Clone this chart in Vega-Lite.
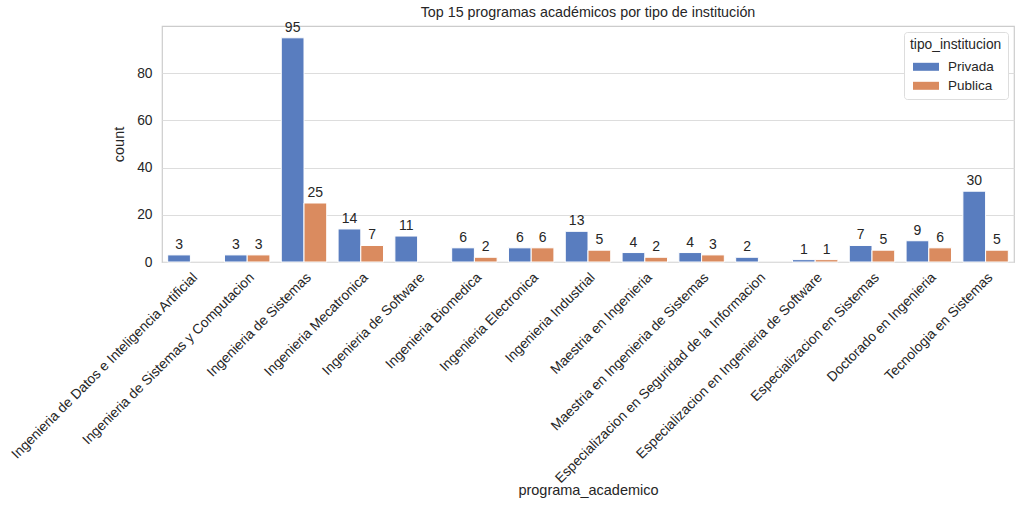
{
  "$schema": "https://vega.github.io/schema/vega-lite/v6.json",
  "autosize": "none",
  "width": 852,
  "height": 236,
  "padding": {"left": 162, "top": 26, "right": 10, "bottom": 244},
  "background": "white",
  "config": {
    "font": "Liberation Sans",
    "view": {"stroke": "#cccccc", "strokeWidth": 1.2},
    "axis": {"labelColor": "#262626", "titleColor": "#262626", "labelFontSize": 13.8, "titleFontSize": 14.5, "titleFontWeight": "normal", "tickSize": 0, "domain": false}
  },
  "title": {"text": "Top 15 programas académicos por tipo de institución", "fontSize": 14.3, "fontWeight": "normal", "color": "#262626", "offset": 1},
  "data": {
    "values": [
      {"programa_academico": "Ingenieria de Datos e Inteligencia Artificial", "tipo_institucion": "Privada", "count": 3},
      {"programa_academico": "Ingenieria de Sistemas y Computacion", "tipo_institucion": "Privada", "count": 3},
      {"programa_academico": "Ingenieria de Sistemas y Computacion", "tipo_institucion": "Publica", "count": 3},
      {"programa_academico": "Ingenieria de Sistemas", "tipo_institucion": "Privada", "count": 95},
      {"programa_academico": "Ingenieria de Sistemas", "tipo_institucion": "Publica", "count": 25},
      {"programa_academico": "Ingenieria Mecatronica", "tipo_institucion": "Privada", "count": 14},
      {"programa_academico": "Ingenieria Mecatronica", "tipo_institucion": "Publica", "count": 7},
      {"programa_academico": "Ingenieria de Software", "tipo_institucion": "Privada", "count": 11},
      {"programa_academico": "Ingenieria Biomedica", "tipo_institucion": "Privada", "count": 6},
      {"programa_academico": "Ingenieria Biomedica", "tipo_institucion": "Publica", "count": 2},
      {"programa_academico": "Ingenieria Electronica", "tipo_institucion": "Privada", "count": 6},
      {"programa_academico": "Ingenieria Electronica", "tipo_institucion": "Publica", "count": 6},
      {"programa_academico": "Ingenieria Industrial", "tipo_institucion": "Privada", "count": 13},
      {"programa_academico": "Ingenieria Industrial", "tipo_institucion": "Publica", "count": 5},
      {"programa_academico": "Maestria en Ingenieria", "tipo_institucion": "Privada", "count": 4},
      {"programa_academico": "Maestria en Ingenieria", "tipo_institucion": "Publica", "count": 2},
      {"programa_academico": "Maestria en Ingenieria de Sistemas", "tipo_institucion": "Privada", "count": 4},
      {"programa_academico": "Maestria en Ingenieria de Sistemas", "tipo_institucion": "Publica", "count": 3},
      {"programa_academico": "Especializacion en Seguridad de la Informacion", "tipo_institucion": "Privada", "count": 2},
      {"programa_academico": "Especializacion en Ingenieria de Software", "tipo_institucion": "Privada", "count": 1},
      {"programa_academico": "Especializacion en Ingenieria de Software", "tipo_institucion": "Publica", "count": 1},
      {"programa_academico": "Especializacion en Sistemas", "tipo_institucion": "Privada", "count": 7},
      {"programa_academico": "Especializacion en Sistemas", "tipo_institucion": "Publica", "count": 5},
      {"programa_academico": "Doctorado en Ingenieria", "tipo_institucion": "Privada", "count": 9},
      {"programa_academico": "Doctorado en Ingenieria", "tipo_institucion": "Publica", "count": 6},
      {"programa_academico": "Tecnologia en Sistemas", "tipo_institucion": "Privada", "count": 30},
      {"programa_academico": "Tecnologia en Sistemas", "tipo_institucion": "Publica", "count": 5}
    ]
  },
  "encoding": {
    "x": {
      "field": "programa_academico", "type": "nominal", "sort": null,
      "scale": {"paddingInner": 0.2, "paddingOuter": 0.1},
      "axis": {"labelAngle": -45, "labelAlign": "right", "labelBaseline": "top", "labelPadding": 8, "grid": false, "labelLimit": 400, "titlePadding": 21}
    },
    "xOffset": {"field": "tipo_institucion", "type": "nominal", "scale": {"domain": ["Privada", "Publica"]}},
    "y": {
      "field": "count", "type": "quantitative",
      "scale": {"domain": [0, 100], "nice": false},
      "axis": {"values": [0, 20, 40, 60, 80], "gridColor": "#dddddd", "gridWidth": 1.2, "labelPadding": 10, "titlePadding": 10}
    }
  },
  "layer": [
    {
      "mark": {"type": "bar", "stroke": "white", "strokeWidth": 1},
      "encoding": {
        "color": {
          "field": "tipo_institucion", "type": "nominal",
          "scale": {"domain": ["Privada", "Publica"], "range": ["#597dbf", "#da8b5f"]},
          "legend": {
            "orient": "top-right", "title": "tipo_institucion", "titleFontSize": 13.8, "titleFontWeight": "normal", "titleColor": "#262626",
            "labelFontSize": 13.5, "labelColor": "#262626", "symbolType": "M-1.3,-0.4H1.3V0.4H-1.3Z", "symbolSize": 400, "symbolStrokeWidth": 0,
            "symbolOffset": 6, "fillColor": "white", "strokeColor": "#dddddd", "padding": 6, "cornerRadius": 3, "offset": 6, "rowPadding": 2, "labelOffset": 12
          }
        }
      }
    },
    {
      "mark": {"type": "text", "baseline": "bottom", "dy": -3, "fontSize": 14, "color": "#262626"},
      "encoding": {"text": {"field": "count", "type": "quantitative"}}
    }
  ]
}
